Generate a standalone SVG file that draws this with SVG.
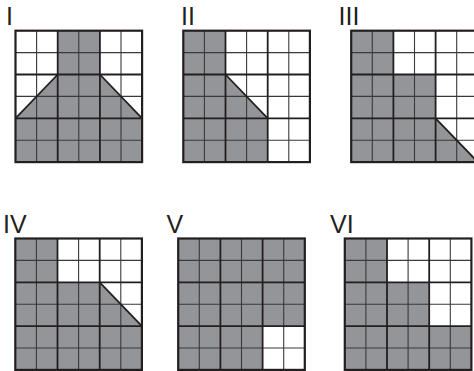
<svg xmlns="http://www.w3.org/2000/svg" xmlns:xlink="http://www.w3.org/1999/xlink" width="474" height="371" viewBox="0 0 474 371">
<style>
.lbl{font-family:"Liberation Sans",Arial,sans-serif;font-size:25px;fill:#231f20}
.fill{fill:#939598;stroke:none}
.thin{stroke:#3a3a3a;stroke-width:1.1;fill:none}
.thick{stroke:#231f20;stroke-width:1.8;fill:none}
.border{stroke:#231f20;stroke-width:2.2;fill:none}
.diag{stroke:#231f20;stroke-width:1.8;fill:none}
</style>
<defs>
<g id="grid">
<path class="thin" d="M21.1 0V131.4M63.3 0V131.4M105.5 0V131.4M0 21.9H126.6M0 65.7H126.6M0 109.5H126.6"/>
<path class="thick" d="M42.2 0V131.4M84.4 0V131.4M0 43.8H126.6M0 87.6H126.6"/>
<rect class="border" x="0" y="0" width="126.6" height="131.4"/>
</g>
</defs>
<rect width="474" height="371" fill="#fff"/>
<g id="panel-I">
<text class="lbl" x="6" y="25">I</text>
<g transform="translate(15.5,30.7)">
<polygon class="fill" points="42.2,0 84.4,0 84.4,43.8 126.6,87.6 126.6,131.4 0,131.4 0,87.6 42.2,43.8"/>
<use xlink:href="#grid"/>
<path class="diag" d="M42.2 43.8L0 87.6M84.4 43.8L126.6 87.6"/>
</g>
</g>
<g id="panel-II">
<text class="lbl" x="181" y="25">II</text>
<g transform="translate(183.3,30.7)">
<polygon class="fill" points="0,0 42.2,0 42.2,43.8 84.4,87.6 84.4,131.4 0,131.4"/>
<use xlink:href="#grid"/>
<path class="diag" d="M42.2 43.8L84.4 87.6"/>
</g>
</g>
<g id="panel-III">
<text class="lbl" x="338.5" y="25">III</text>
<g transform="translate(351.2,30.7)">
<polygon class="fill" points="0,0 42.2,0 42.2,43.8 84.4,43.8 84.4,87.6 126.6,131.4 0,131.4"/>
<use xlink:href="#grid"/>
<path class="diag" d="M84.4 87.6L126.6 131.4"/>
</g>
</g>
<g id="panel-IV">
<text class="lbl" x="3" y="233">IV</text>
<g transform="translate(15.3,238.5)">
<polygon class="fill" points="0,0 42.2,0 42.2,43.8 84.4,43.8 126.6,87.6 126.6,131.4 0,131.4"/>
<use xlink:href="#grid"/>
<path class="diag" d="M84.4 43.8L126.6 87.6"/>
</g>
</g>
<g id="panel-V">
<text class="lbl" x="166.5" y="233">V</text>
<g transform="translate(178.2,238.5)">
<polygon class="fill" points="0,0 126.6,0 126.6,87.6 84.4,87.6 84.4,131.4 0,131.4"/>
<use xlink:href="#grid"/>
</g>
</g>
<g id="panel-VI">
<text class="lbl" x="330" y="233">VI</text>
<g transform="translate(344.8,238.5)">
<polygon class="fill" points="0,0 42.2,0 42.2,43.8 84.4,43.8 84.4,87.6 126.6,87.6 126.6,131.4 0,131.4"/>
<use xlink:href="#grid"/>
</g>
</g>
</svg>
